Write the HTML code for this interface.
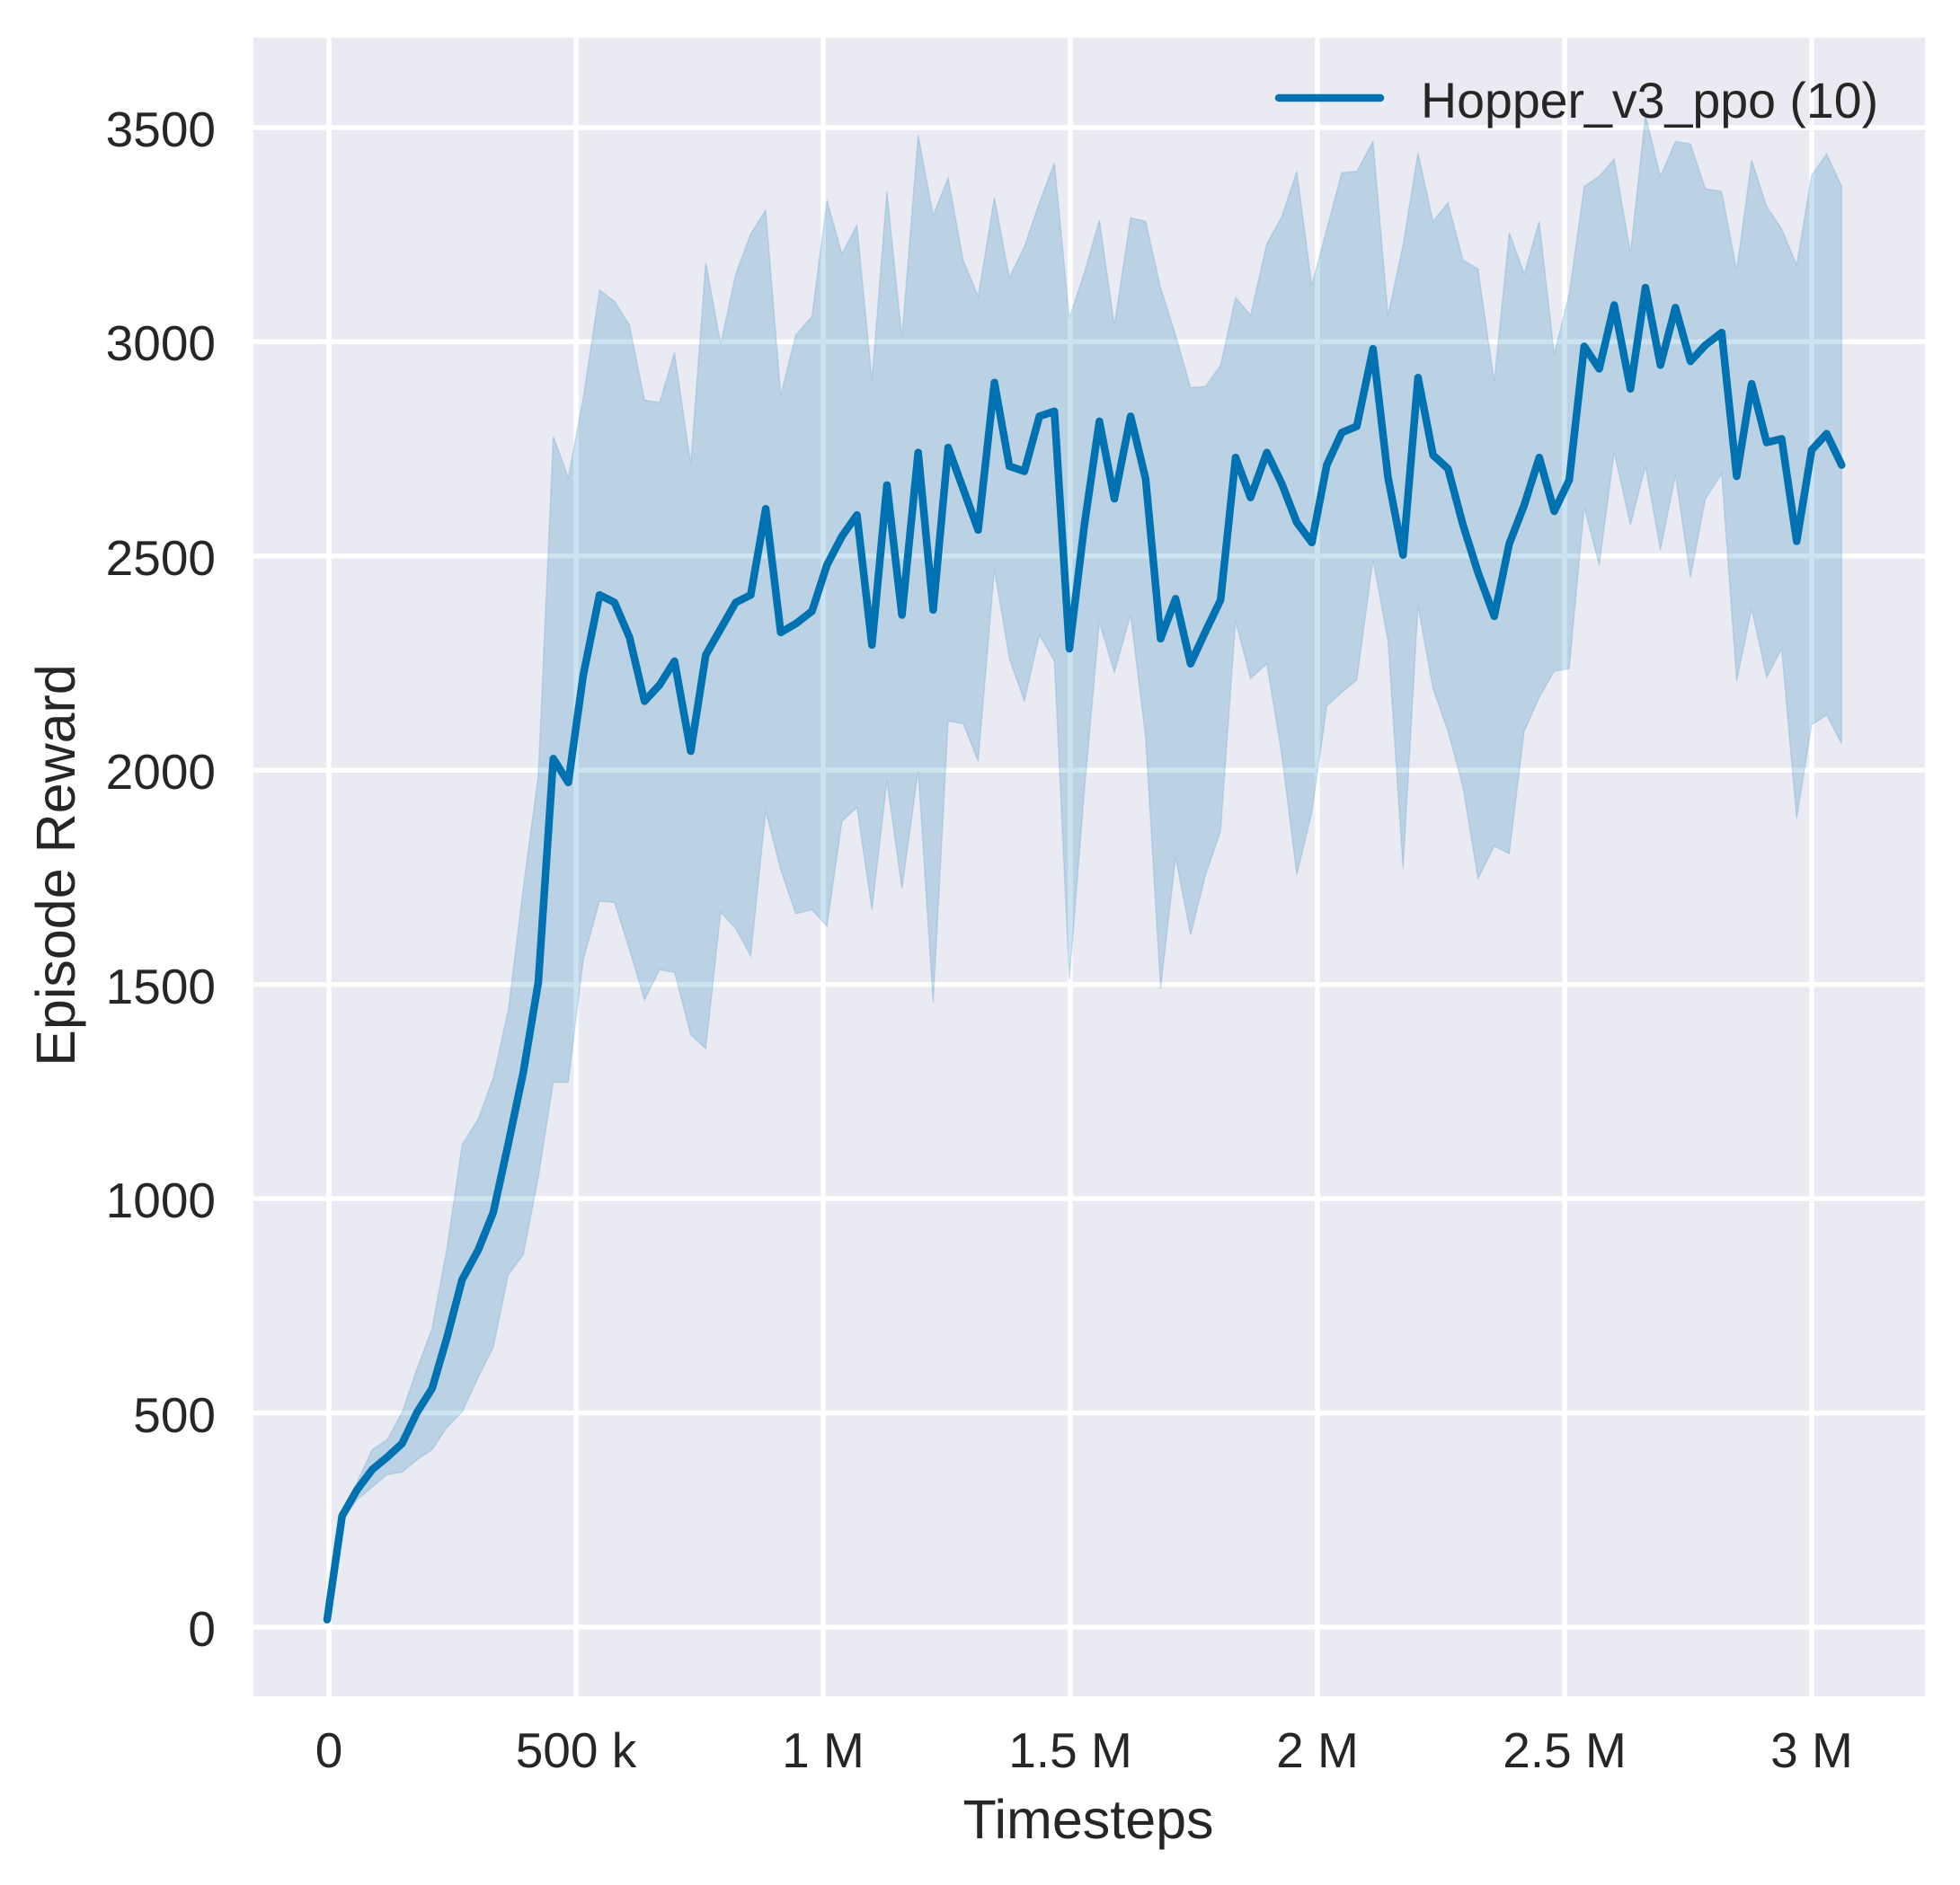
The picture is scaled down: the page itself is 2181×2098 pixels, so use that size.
<!DOCTYPE html>
<html><head><meta charset="utf-8"><style>
html,body{margin:0;padding:0;background:#fff;}
svg{display:block;}
text{font-family:"Liberation Sans",sans-serif;fill:#262626;}
</style></head><body>
<svg width="2181" height="2098" viewBox="0 0 2181 2098" xmlns="http://www.w3.org/2000/svg">
<rect x="282" y="42" width="1860" height="1846" fill="#eaeaf2"/>
<g stroke="#fff" stroke-width="5.5">
<line x1="282" x2="2142" y1="1811" y2="1811"/><line x1="282" x2="2142" y1="1572.6" y2="1572.6"/>
<line x1="282" x2="2142" y1="1334.1" y2="1334.1"/><line x1="282" x2="2142" y1="1095.7" y2="1095.7"/>
<line x1="282" x2="2142" y1="857.3" y2="857.3"/><line x1="282" x2="2142" y1="618.9" y2="618.9"/>
<line x1="282" x2="2142" y1="380.4" y2="380.4"/><line x1="282" x2="2142" y1="142" y2="142"/>
<line y1="42" y2="1888" x1="366" x2="366"/><line y1="42" y2="1888" x1="641" x2="641"/>
<line y1="42" y2="1888" x1="916" x2="916"/><line y1="42" y2="1888" x1="1191" x2="1191"/>
<line y1="42" y2="1888" x1="1466" x2="1466"/><line y1="42" y2="1888" x1="1741" x2="1741"/>
<line y1="42" y2="1888" x1="2016" x2="2016"/>
</g>
<g transform="matrix(1.3905 0 0 1.3908 -1.7 0.2)">
<path id="band" fill="#0072b2" fill-opacity="0.2" stroke="#0072b2" stroke-opacity="0.15" stroke-width="1.5" vector-effect="non-scaling-stroke"/>
<path id="mean" fill="none" stroke="#0072b2" stroke-width="8.5" stroke-linejoin="round" stroke-linecap="round" vector-effect="non-scaling-stroke"/>
</g>
<g font-size="55" text-anchor="end">
<text x="240" y="1832">0</text><text x="240" y="1594">500</text><text x="240" y="1355">1000</text>
<text x="240" y="1117">1500</text><text x="240" y="878">2000</text><text x="240" y="640">2500</text>
<text x="240" y="401">3000</text><text x="240" y="163">3500</text>
</g>
<g font-size="55" text-anchor="middle">
<text x="366" y="1967">0</text><text x="641" y="1967">500 k</text><text x="916" y="1967">1 M</text>
<text x="1191" y="1967">1.5 M</text><text x="1466" y="1967">2 M</text><text x="1741" y="1967">2.5 M</text>
<text x="2016" y="1967">3 M</text>
</g>
<text x="1211" y="2046" font-size="61" text-anchor="middle">Timesteps</text>
<text transform="translate(83,963) rotate(-90)" font-size="61" text-anchor="middle">Episode Reward</text>
<line x1="1423" x2="1536" y1="109" y2="109" stroke="#0072b2" stroke-width="8.5" stroke-linecap="round"/>
<text x="1581" y="131" font-size="55.5">Hopper_v3_ppo (10)</text>
</svg>
<script>
var X=[263,275,287,299,311,323,335,347,359,371,384,396,408,420,432,444,456,468,481,493,505,517,529,541,554,566,578,590,602,614,626,638,651,663,675,687,699,711,723,736,748,760,772,784,797,809,821,833,845,857,869,881,893,906,918,930,942,954,966,978,990,1002,1015,1027,1039,1051,1063,1075,1087,1100,1112,1124,1136,1148,1160,1172,1184,1197,1209,1221,1233,1245,1257,1269,1281,1293,1306,1318,1330,1342,1354,1366,1379,1391,1403,1415,1427,1439,1451,1463,1475];
var M=[1296,1213,1192,1176,1166,1155,1130,1111,1070,1024,1000,970,915,858,786,607,626,540,476,482,510,561,548,529,601,524,503,482,476,407,506,499,489,452,429,412,516,388,492,362,488,358,391,424,306,373,377,333,329,519,420,337,399,333,383,511,479,531,505,480,366,398,362,387,418,434,372,346,341,279,382,444,302,364,375,420,458,493,435,404,366,409,384,277,295,244,311,230,292,246,289,276,266,381,307,354,351,433,360,347,372];
var U=[1296,1213,1186,1160,1152,1130,1095,1063,998,916,895,862,808,710,620,349,382,318,232,241,260,320,322,282,371,210,275,219,187,168,316,268,253,160,203,180,304,153,270,108,172,142,208,237,158,222,197,162,130,254,218,176,260,174,177,230,268,310,309,292,238,252,195,173,137,228,183,138,137,113,252,196,122,177,162,208,215,305,186,219,177,283,235,149,141,127,202,92,141,113,115,151,153,216,128,165,183,212,140,123,149];
var L=[1296,1216,1200,1190,1180,1178,1168,1160,1142,1130,1102,1078,1020,1004,942,866,866,768,721,722,760,800,776,778,828,839,730,743,765,649,696,731,728,741,657,646,728,625,711,617,802,577,579,609,456,527,561,508,529,784,633,498,538,492,590,791,686,748,700,665,497,543,531,604,700,650,565,554,544,448,513,695,485,551,585,630,703,677,683,585,558,537,535,406,452,362,420,373,440,380,462,399,379,545,487,542,519,655,580,572,595];
var m="",b="";
for(var i=0;i<X.length;i++){m+=(i?"L":"M")+X[i]+","+M[i];b+=(i?"L":"M")+X[i]+","+U[i];}
for(var i=X.length-1;i>=0;i--){b+="L"+X[i]+","+L[i];}
b+="Z";
document.getElementById("mean").setAttribute("d",m);
document.getElementById("band").setAttribute("d",b);
</script>
</body></html>
